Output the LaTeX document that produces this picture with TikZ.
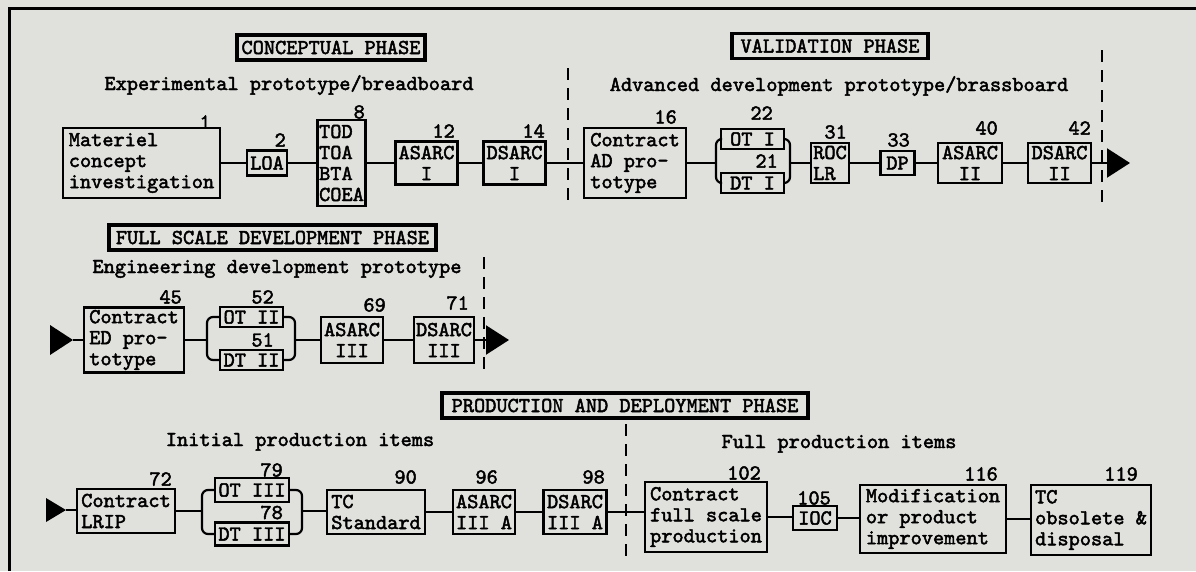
\documentclass[tikz,border=0pt]{standalone}
\usepackage{fontspec}
\newfontfamily\tw{lmmono10-regular}[Extension=.otf, FakeBold=2.2]
\newcommand\twf{\tw\fontsize{21.3}{21}\selectfont}
\usetikzlibrary{arrows.meta,calc}
\definecolor{paper}{RGB}{224,224,221}
\tikzset{
  box/.style={draw, line width=2.2pt, inner sep=0pt, font=\twf, align=left},
  cbox/.style={box, align=center},
  phase/.style={draw, line width=3.2pt, inner sep=0pt, font=\twf},
  num/.style={font=\twf, inner sep=0pt, anchor=east},
  sub/.style={font=\twf, inner sep=0pt, anchor=base},
  conn/.style={line width=2.2pt},
  fork/.style={conn, rounded corners=6pt},
  dashline/.style={line width=2pt, dash pattern=on 12pt off 8pt},
  outarrow/.style={conn, -{Triangle[length=23pt,width=29pt]}},
  tri/.style={fill=black},
  frame/.style={line width=3pt}
}
\begin{document}
\begin{tikzpicture}[x=1pt,y=-1pt]
\useasboundingbox (0,0) rectangle (1196,571);
\fill[paper] (0,0) rectangle (1196,571);
\draw[frame] (9,571) -- (9,8) -- (1196,8);

% ---------- Row 1 ----------
\node[phase, minimum width=188, minimum height=25] (pc) at (331,47.5) {CONCEPTUAL PHASE};
\node[phase, minimum width=196, minimum height=25] (pv) at (830,46) {VALIDATION PHASE};
\node[sub] (s1) at (289,90) {Experimental prototype/breadboard};
\node[sub] (s2) at (839,91) {Advanced development prototype/brassboard};

\node[box, minimum width=157, minimum height=70] (mat) at (141.5,163) {Materiel\\concept\\investigation};
\node[box, minimum width=40, minimum height=25] (loa) at (267,163) {LOA};
\node[box, minimum width=48, minimum height=86] (tod) at (341.5,163) {TOD\\TOA\\BTA\\COEA};
\node[cbox, minimum width=62, minimum height=43] (as1) at (426.5,163) {ASARC\\I};
\node[cbox, minimum width=62, minimum height=43] (ds1) at (514.5,163) {DSARC\\I};
\node[box, minimum width=102, minimum height=70] (cad) at (635,163) {Contract\\AD pro-\\totype};
\node[box, minimum width=63, minimum height=20] (ot1) at (752.5,139) {OT I};
\node[box, minimum width=63, minimum height=20] (dt1) at (752.5,183) {DT I};
\node[box, minimum width=38, minimum height=40] (roc) at (830,163) {ROC\\LR};
\node[box, minimum width=34, minimum height=24] (dp) at (897.5,163) {DP};
\node[cbox, minimum width=64, minimum height=40] (as2) at (970,163) {ASARC\\II};
\node[cbox, minimum width=63, minimum height=40] (ds2) at (1059.5,163) {DSARC\\II};
\coordinate (f1a) at (716,163);
\coordinate (f1b) at (790,163);
\coordinate (e1) at (1130,163);

\node[num] (n1) at (211,122) {1};
\node[num] (n2) at (286,140) {2};
\node[num] (n8) at (365,112) {8};
\node[num] (n12) at (455,131) {12};
\node[num] (n14) at (545,131) {14};
\node[num] (n16) at (677,117) {16};
\node[num] (n22) at (773,113) {22};
\node[num] (n21) at (778,161) {21};
\node[num] (n31) at (847,132) {31};
\node[num] (n33) at (910,140) {33};
\node[num] (n40) at (998,128) {40};
\node[num] (n42) at (1091,128) {42};

\draw[conn] (mat) -- (loa);
\draw[conn] (loa) -- (tod);
\draw[conn] (tod) -- (as1);
\draw[conn] (as1) -- (ds1);
\draw[conn] (ds1) -- (cad);
\draw[conn] (cad) -- (f1a);
\draw[fork] (ot1.west) -- (ot1.west -| f1a) -- (dt1.west -| f1a) -- (dt1.west);
\draw[fork] (ot1.east) -- (ot1.east -| f1b) -- (dt1.east -| f1b) -- (dt1.east);
\draw[conn] (f1b) -- (roc);
\draw[conn] (roc) -- (dp);
\draw[conn] (dp) -- (as2);
\draw[conn] (as2) -- (ds2);
\draw[outarrow] (ds2) -- (e1);

\draw[dashline] (568,68) -- (568,205);
\draw[dashline] (1102,50) -- (1102,203);

% ---------- Row 2 ----------
\node[phase, minimum width=327, minimum height=25] (pf) at (272.5,237.5) {FULL SCALE DEVELOPMENT PHASE};
\node[sub] (s3) at (277,273) {Engineering development prototype};

\node[box, minimum width=100, minimum height=65] (ced) at (134,340) {Contract\\ED pro-\\totype};
\node[box, minimum width=63, minimum height=20] (ot2) at (251.5,317) {OT II};
\node[box, minimum width=63, minimum height=20] (dt2) at (251.5,360) {DT II};
\node[cbox, minimum width=62, minimum height=46] (as3) at (352,340) {ASARC\\III};
\node[cbox, minimum width=60, minimum height=46] (ds3) at (444,340) {DSARC\\III};
\coordinate (f2a) at (207,340);
\coordinate (f2b) at (295,340);
\coordinate (b2) at (50,340);
\coordinate (t2) at (73,340);
\coordinate (e2) at (509,340);

\node[num] (n45) at (182,297) {45};
\node[num] (n52) at (274,297) {52};
\node[num] (n51) at (274,340) {51};
\node[num] (n69) at (386,305) {69};
\node[num] (n71) at (469,303) {71};

\fill[tri] ($(b2)+(0,-15)$) -- (t2) -- ($(b2)+(0,15)$) -- cycle;
\draw[conn] (t2) -- (ced);
\draw[conn] (ced) -- (f2a);
\draw[fork] (ot2.west) -- (ot2.west -| f2a) -- (dt2.west -| f2a) -- (dt2.west);
\draw[fork] (ot2.east) -- (ot2.east -| f2b) -- (dt2.east -| f2b) -- (dt2.east);
\draw[conn] (f2b) -- (as3);
\draw[conn] (as3) -- (ds3);
\draw[outarrow] (ds3) -- (e2);

\draw[dashline] (484,257) -- (484,372);

% ---------- Row 3 ----------
\node[phase, minimum width=366, minimum height=25] (pp) at (625,405.5) {PRODUCTION AND DEPLOYMENT PHASE};
\node[sub] (s4) at (300,446) {Initial production items};
\node[sub] (s5) at (839,448) {Full production items};

\node[box, minimum width=98, minimum height=44] (lrip) at (126,511) {Contract\\LRIP};
\node[box, minimum width=74, minimum height=24] (ot3) at (252,490) {OT III};
\node[box, minimum width=74, minimum height=23] (dt3) at (252,534) {DT III};
\node[box, minimum width=98, minimum height=44] (tcs) at (376,512) {TC\\Standard};
\node[cbox, minimum width=62, minimum height=44] (as3a) at (484,512) {ASARC\\III A};
\node[cbox, minimum width=63, minimum height=44] (ds3a) at (575,512) {DSARC\\III A};
\node[box, minimum width=122, minimum height=70] (cfsp) at (706,517) {Contract\\full scale\\production};
\node[box, minimum width=44, minimum height=24] (ioc) at (815,518) {IOC};
\node[box, minimum width=146, minimum height=68] (mod) at (933,519) {Modification\\or product\\improvement};
\node[box, minimum width=120, minimum height=70] (tco) at (1091,520) {TC\\obsolete \&\\disposal};
\coordinate (f3a) at (202,511);
\coordinate (f3b) at (302,511);
\coordinate (b3) at (46,510);
\coordinate (t3) at (66,510);

\node[num] (n72) at (172,479) {72};
\node[num] (n79) at (283,470) {79};
\node[num] (n78) at (283,512.5) {78};
\node[num] (n90) at (417,477) {90};
\node[num] (n96) at (498,477) {96};
\node[num] (n98) at (605,477) {98};
\node[num] (n102) at (761,473) {102};
\node[num] (n105) at (831,498) {105};
\node[num] (n116) at (998,474) {116};
\node[num] (n119) at (1138,474) {119};

\fill[tri] ($(b3)+(0,-12)$) -- (t3) -- ($(b3)+(0,12)$) -- cycle;
\draw[conn] (t3) -- (t3 -| lrip.west);
\draw[conn] (lrip) -- (f3a);
\draw[fork] (ot3.west) -- (ot3.west -| f3a) -- (dt3.west -| f3a) -- (dt3.west);
\draw[fork] (ot3.east) -- (ot3.east -| f3b) -- (dt3.east -| f3b) -- (dt3.east);
\draw[conn] (f3b) -- (f3b -| tcs.west);
\draw[conn] (tcs) -- (as3a);
\draw[conn] (as3a) -- (ds3a);
\draw[conn] (ds3a.east) -- (ds3a.east -| cfsp.west);
\draw[conn] (cfsp.east) -- (cfsp.east -| ioc.west);
\draw[conn] (ioc.east) -- (ioc.east -| mod.west);
\draw[conn] (mod.east) -- (mod.east -| tco.west);

\draw[dashline] (626,424) -- (626,557);
\end{tikzpicture}
\end{document}
